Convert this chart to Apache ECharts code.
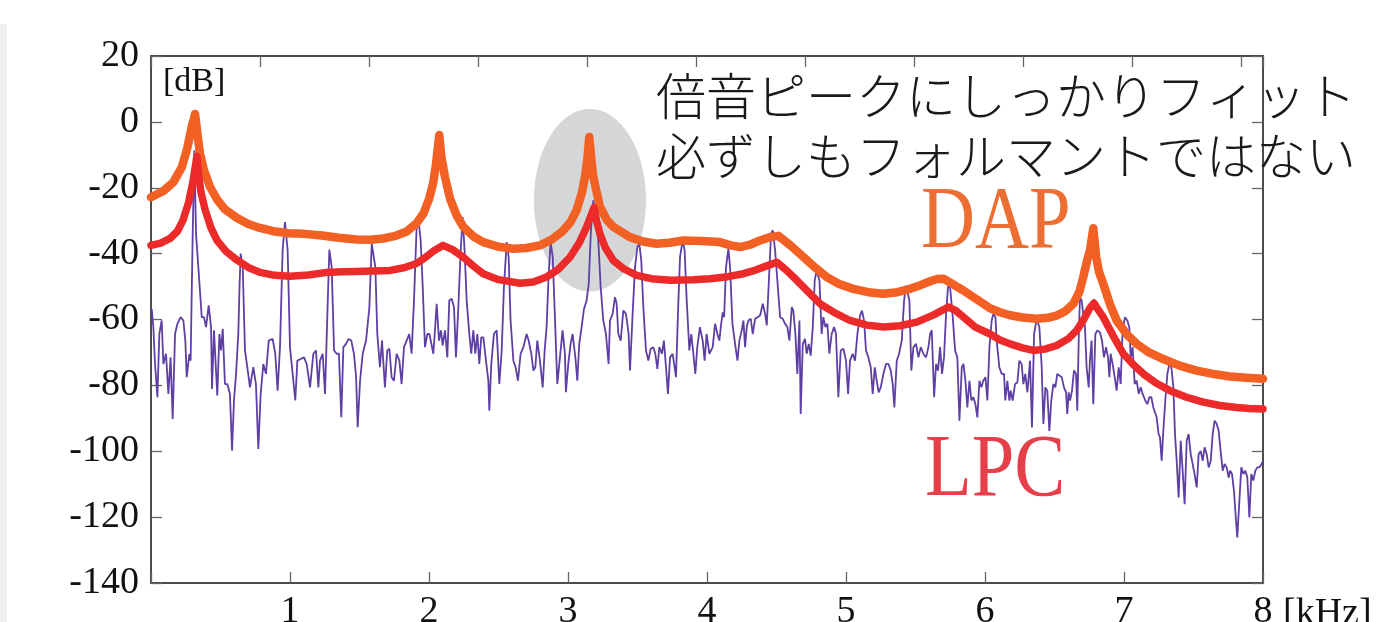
<!DOCTYPE html>
<html>
<head>
    <meta charset="utf-8">
    <title>DAP / LPC spectrum</title>
    <script src="https://cdn.jsdelivr.net/npm/echarts@6.0.0/dist/echarts.min.js"></script>
    <style>
        html, body { margin: 0; padding: 0; background: #fff; }
    </style>
</head>
<body>
    <div id="main" style="width: 1388px;height:622px;"></div>
    <script type="text/javascript">
        // axis ticks
        var freqTicks = [0, 1, 2, 3, 4, 5, 6, 7, 8];
        var dbTicks = [-140, -120, -100, -80, -60, -40, -20, 0, 20];

        // observed spectrum (purple), kHz / dB
        var specFreq = [
            0.005,0.017,0.029,0.046,0.060,0.077,0.089,0.108,0.125,0.141,0.156,0.173,0.190,0.213,0.233,0.247,0.257,0.276,0.285,0.300,
            0.312,0.324,0.357,0.365,0.381,0.396,0.415,0.432,0.439,0.453,0.465,0.477,0.492,0.504,0.516,0.532,0.549,0.568,0.583,0.597,
            0.612,0.628,0.637,0.645,0.660,0.676,0.693,0.712,0.736,0.755,0.772,0.789,0.808,0.827,0.847,0.875,0.894,0.911,0.928,0.947,
            0.964,0.983,1.000,1.019,1.038,1.053,1.077,1.101,1.120,1.144,1.168,1.187,1.204,1.216,1.235,1.252,1.269,1.283,1.300,1.317,
            1.336,1.352,1.369,1.384,1.403,1.422,1.441,1.460,1.475,1.487,1.504,1.523,1.547,1.571,1.588,1.600,1.614,1.628,1.647,1.662,
            1.683,1.700,1.715,1.731,1.748,1.767,1.787,1.803,1.820,1.839,1.858,1.875,1.892,1.911,1.926,1.940,1.955,1.971,1.988,2.003,
            2.031,2.043,2.055,2.072,2.086,2.098,2.115,2.132,2.146,2.163,2.180,2.194,2.211,2.228,2.242,2.256,2.271,2.290,2.304,2.319,
            2.333,2.348,2.362,2.376,2.391,2.410,2.427,2.434,2.448,2.467,2.487,2.506,2.523,2.539,2.559,2.573,2.587,2.607,2.623,2.640,
            2.659,2.679,2.702,2.717,2.736,2.751,2.765,2.779,2.798,2.818,2.832,2.846,2.861,2.875,2.890,2.906,2.923,2.942,2.961,2.978,
            2.985,3.002,3.019,3.033,3.053,3.067,3.081,3.098,3.115,3.134,3.149,3.165,3.182,3.218,3.235,3.254,3.273,3.292,3.302,3.321,
            3.338,3.350,3.362,3.379,3.398,3.417,3.436,3.446,3.465,3.482,3.499,3.513,3.527,3.542,3.561,3.578,3.595,3.614,3.628,3.643,
            3.657,3.676,3.690,3.705,3.719,3.734,3.753,3.767,3.777,3.791,3.806,3.825,3.839,3.854,3.873,3.887,3.902,3.916,3.930,3.949,
            3.969,3.983,3.997,4.017,4.041,4.058,4.075,4.089,4.099,4.113,4.123,4.137,4.154,4.166,4.183,4.202,4.219,4.233,4.250,4.262,
            4.274,4.286,4.298,4.315,4.329,4.346,4.363,4.382,4.401,4.418,4.430,4.444,4.461,4.473,4.490,4.506,4.526,4.545,4.562,4.578,
            4.593,4.610,4.621,4.636,4.650,4.665,4.674,4.689,4.705,4.717,4.732,4.746,4.761,4.775,4.789,4.809,4.825,4.837,4.852,4.866,
            4.880,4.897,4.914,4.928,4.945,4.962,4.981,5.000,5.015,5.029,5.048,5.065,5.082,5.101,5.115,5.130,5.144,5.161,5.178,5.192,
            5.207,5.221,5.235,5.250,5.269,5.288,5.305,5.322,5.336,5.348,5.365,5.382,5.401,5.418,5.432,5.442,5.456,5.470,5.485,5.504,
            5.521,5.538,5.557,5.576,5.593,5.605,5.617,5.634,5.648,5.662,5.677,5.691,5.705,5.720,5.734,5.749,5.768,5.785,5.801,5.816,
            5.833,5.845,5.859,5.873,5.888,5.902,5.916,5.931,5.945,5.960,5.974,5.988,6.003,6.017,6.032,6.048,6.060,6.075,6.084,6.103,
            6.120,6.137,6.146,6.161,6.175,6.185,6.199,6.216,6.233,6.247,6.264,6.276,6.290,6.305,6.324,6.338,6.353,6.372,6.391,6.408,
            6.420,6.434,6.448,6.463,6.477,6.492,6.506,6.520,6.535,6.552,6.568,6.583,6.592,6.602,6.612,6.626,6.640,6.655,6.664,6.674,
            6.683,6.695,6.707,6.719,6.731,6.746,6.755,6.767,6.779,6.794,6.808,6.827,6.842,6.856,6.871,6.885,6.895,6.904,6.918,6.933,
            6.947,6.962,6.976,6.990,7.007,7.024,7.038,7.048,7.062,7.077,7.091,7.106,7.120,7.134,7.153,7.168,7.182,7.197,7.211,7.225,
            7.235,7.249,7.259,7.271,7.283,7.297,7.312,7.326,7.341,7.355,7.367,7.379,7.393,7.408,7.422,7.436,7.451,7.465,7.480,7.494,
            7.508,7.523,7.537,7.552,7.566,7.580,7.595,7.609,7.624,7.638,7.652,7.667,7.681,7.695,7.710,7.724,7.739,7.753,7.763,7.777,
            7.791,7.806,7.815,7.830,7.844,7.859,7.873,7.887,7.902,7.916,7.930,7.945,7.959,7.974,7.990,8.000
        ];
        var specDb = [
            -56.8,-62.3,-73.5,-83.6,-64.4,-60.3,-73.5,-70.4,-82.6,-71.5,-90.2,-64.4,-61.3,-59.3,-60.3,-66.4,-77.5,-70.5,-72.5,-34.0,
            -8.6,-34.0,-54.2,-59.3,-59.3,-62.3,-55.7,-62.3,-81.1,-63.3,-63.3,-83.1,-64.4,-69.4,-62.8,-79.6,-79.6,-82.6,-99.8,-84.6,
            -76.5,-64.4,-50.0,-40.0,-44.1,-69.4,-74.5,-80.6,-74.5,-79.6,-99.3,-82.6,-73.5,-76.5,-66.4,-65.9,-70.4,-81.6,-68.4,-39.0,
            -30.4,-39.0,-68.4,-76.5,-84.6,-72.5,-72.0,-71.5,-73.5,-80.6,-70.4,-69.4,-80.6,-72.5,-70.4,-82.6,-58.3,-38.8,-44.1,-69.4,
            -70.4,-70.4,-89.7,-68.4,-67.4,-65.9,-66.4,-70.4,-77.0,-92.7,-78.6,-70.4,-66.4,-56.3,-37.0,-36.5,-44.1,-64.4,-74.5,-66.4,
            -80.6,-69.4,-68.9,-77.5,-78.6,-70.4,-72.5,-79.6,-68.4,-66.4,-64.4,-70.4,-54.2,-31.9,-30.4,-36.0,-50.2,-68.4,-64.4,-64.4,
            -70.4,-63.3,-55.2,-66.4,-63.3,-67.9,-63.3,-71.5,-54.2,-53.7,-56.3,-71.5,-56.3,-39.0,-28.9,-39.0,-54.2,-64.4,-70.4,-63.3,
            -70.4,-64.4,-73.5,-65.4,-65.4,-72.5,-78.6,-87.7,-73.5,-64.4,-63.3,-79.6,-69.4,-50.2,-36.5,-41.0,-60.3,-72.5,-74.5,-78.6,
            -70.4,-68.4,-64.4,-66.4,-70.4,-75.5,-74.5,-66.4,-72.5,-80.6,-69.4,-62.3,-46.1,-36.5,-41.0,-59.3,-79.6,-71.5,-63.3,-70.4,
            -82.1,-73.5,-67.4,-64.4,-71.5,-78.6,-67.4,-62.3,-56.8,-54.2,-49.2,-32.9,-23.8,-36.0,-50.2,-60.3,-64.4,-73.5,-60.3,-58.3,
            -53.2,-55.2,-64.4,-66.4,-57.3,-58.3,-64.4,-75.5,-58.3,-44.1,-38.0,-37.0,-42.0,-56.3,-69.4,-72.5,-68.9,-68.4,-70.4,-75.0,
            -68.4,-70.4,-66.4,-74.5,-82.6,-71.5,-70.4,-70.4,-77.5,-58.3,-41.0,-36.0,-39.0,-54.2,-69.4,-64.4,-70.4,-76.5,-68.4,-62.3,
            -66.4,-72.5,-64.4,-70.4,-68.4,-61.3,-64.4,-66.4,-62.3,-57.8,-59.3,-44.1,-38.5,-44.1,-61.3,-67.4,-72.5,-66.4,-63.3,-60.3,
            -68.4,-62.3,-60.3,-59.8,-64.4,-59.8,-59.3,-58.8,-55.2,-58.3,-61.8,-49.2,-33.9,-32.9,-39.0,-48.1,-59.3,-59.8,-61.3,-62.3,
            -66.4,-56.2,-57.3,-64.4,-76.5,-60.3,-88.7,-67.4,-65.9,-70.4,-67.4,-71.0,-62.3,-48.1,-45.1,-48.1,-64.4,-59.3,-62.3,-61.3,
            -70.4,-64.4,-62.3,-64.4,-83.6,-69.4,-68.9,-72.5,-82.6,-72.5,-70.4,-72.5,-64.4,-58.8,-57.3,-60.3,-69.4,-71.5,-74.5,-82.6,
            -74.5,-78.6,-82.1,-80.6,-76.5,-73.5,-73.5,-75.5,-79.6,-86.7,-72.5,-70.4,-66.4,-54.2,-49.7,-49.2,-54.2,-75.5,-68.4,-67.4,
            -71.5,-68.4,-70.4,-71.5,-68.4,-64.4,-63.3,-83.6,-73.5,-75.5,-68.4,-76.5,-71.5,-58.3,-50.0,-50.2,-59.3,-69.4,-71.5,-90.7,
            -74.5,-73.5,-78.6,-86.7,-78.6,-84.6,-83.6,-85.7,-89.7,-78.6,-80.6,-78.6,-77.5,-84.6,-68.4,-60.3,-58.3,-59.3,-66.4,-74.5,
            -76.5,-76.5,-84.6,-78.6,-84.6,-81.6,-84.6,-79.6,-79.1,-72.5,-73.5,-79.6,-76.5,-82.1,-72.5,-92.8,-64.4,-59.8,-62.3,-74.5,
            -91.7,-80.6,-81.6,-93.8,-84.6,-79.6,-80.6,-76.5,-77.0,-77.5,-80.6,-82.1,-88.7,-82.1,-84.6,-81.6,-75.5,-76.5,-87.7,-66.4,
            -53.2,-54.2,-58.3,-62.3,-74.5,-80.6,-72.5,-66.4,-85.7,-64.4,-63.3,-63.9,-66.4,-71.5,-68.4,-71.5,-77.5,-70.4,-73.5,-77.5,
            -81.6,-74.5,-79.6,-63.3,-59.3,-60.3,-62.3,-71.5,-68.4,-79.6,-78.6,-82.6,-80.6,-82.6,-84.6,-85.7,-83.6,-83.6,-86.7,-86.7,
            -89.7,-94.8,-95.8,-102.9,-93.8,-84.6,-76.5,-73.5,-74.5,-80.6,-94.8,-102.9,-114.0,-96.8,-105.9,-116.1,-96.8,-94.8,-100.9,-103.9,
            -107.0,-111.0,-100.9,-99.9,-102.9,-98.8,-100.9,-104.9,-102.9,-94.8,-90.7,-91.7,-93.8,-99.9,-105.9,-103.9,-104.9,-108.0,-105.9,-106.9,
            -112.0,-121.1,-126.2,-115.1,-104.9,-106.9,-105.9,-107.9,-120.1,-106.9,-108.9,-105.9,-104.9,-104.9,-103.9,-102.9
        ];

        // DAP envelope (orange)
        var dapFreq = [
            0,0.089,0.161,0.221,0.261,0.293,0.317,0.335,0.352,0.38,0.424,0.475,0.53,0.619,0.70,0.784,0.88,0.99,1.1,1.23,
            1.35,1.48,1.58,1.67,1.76,1.84,1.91,1.96,2.0,2.03,2.05,2.074,2.09,2.115,2.151,2.2,2.247,2.32,2.39,2.5,
            2.607,2.7,2.798,2.88,2.966,3.02,3.062,3.1,3.122,3.14,3.153,3.166,3.182,3.23,3.28,3.326,3.446,3.54,3.638,3.73,
            3.83,3.96,4.093,4.17,4.238,4.31,4.382,4.45,4.514,4.6,4.693,4.78,4.861,4.95,5.053,5.16,5.269,5.37,5.461,5.54,
            5.605,5.655,5.701,5.75,5.80,5.845,5.92,5.988,6.036,6.108,6.18,6.27,6.372,6.45,6.516,6.58,6.636,6.68,6.707,6.735,
            6.755,6.779,6.80,6.82,6.851,6.9,6.947,7.02,7.091,7.18,7.283,7.4,7.523,7.64,7.763,7.88,8.0
        ];
        var dapDb = [
            -22.9,-21.0,-18.3,-13.8,-8.0,-1.5,2.4,-4.0,-9.6,-14.5,-19.7,-23.5,-26.5,-29.2,-31.0,-32.2,-33.2,-33.8,-34.0,-34.5,
            -35.2,-35.7,-35.8,-35.4,-34.6,-33.3,-30.8,-27.8,-23.5,-18.6,-13.0,-4.0,-11.0,-16.7,-23.3,-28.5,-31.9,-34.8,-36.5,-37.9,
            -38.5,-38.3,-37.5,-35.8,-33.0,-30.3,-26.8,-21.5,-16.7,-11.0,-4.6,-10.5,-16.7,-25.8,-29.8,-31.9,-35.0,-36.3,-37.0,-36.7,
            -36.0,-36.2,-36.5,-37.5,-38.0,-37.3,-36.0,-35.0,-34.6,-37.5,-41.0,-44.3,-47.1,-49.2,-50.7,-51.7,-52.2,-51.7,-50.7,-49.5,
            -48.4,-47.7,-47.6,-48.8,-50.1,-51.2,-53.3,-55.2,-56.6,-57.8,-58.7,-59.4,-59.8,-59.5,-58.8,-57.4,-55.2,-51.5,-47.1,-42.0,
            -39.0,-32.3,-41.0,-45.5,-49.2,-55.5,-60.3,-64.5,-67.4,-70.0,-72.0,-74.0,-75.5,-76.5,-77.3,-77.7,-78.0
        ];

        // LPC envelope (red)
        var lpcFreq = [
            0,0.07,0.137,0.19,0.23,0.27,0.30,0.33,0.345,0.36,0.39,0.43,0.475,0.54,0.62,0.70,0.784,0.89,1.0,1.13,
            1.266,1.37,1.48,1.6,1.72,1.82,1.91,1.97,2.03,2.1,2.17,2.247,2.32,2.39,2.5,2.654,2.75,2.846,2.93,3.014,
            3.08,3.134,3.165,3.187,3.205,3.23,3.27,3.326,3.4,3.494,3.6,3.734,3.9,4.022,4.15,4.262,4.35,4.406,4.502,4.57,
            4.646,4.73,4.813,4.92,5.029,5.15,5.269,5.39,5.509,5.63,5.737,5.79,5.845,5.93,6.036,6.108,6.18,6.27,6.348,6.43,
            6.516,6.6,6.66,6.71,6.755,6.784,6.81,6.851,6.92,6.995,7.07,7.139,7.23,7.331,7.45,7.571,7.69,7.81,7.9,8.0
        ];
        var lpcDb = [
            -37.5,-36.8,-35.4,-33.2,-29.9,-24.5,-18.6,-10.5,-17.0,-21.5,-26.8,-32.0,-36.0,-39.3,-42.0,-44.2,-45.7,-46.6,-46.9,-46.5,
            -45.7,-45.5,-45.4,-45.3,-45.1,-44.3,-43.0,-41.3,-39.3,-37.5,-38.8,-41.1,-43.8,-46.1,-47.9,-49.0,-48.6,-47.1,-44.8,-41.1,
            -36.8,-31.9,-28.5,-26.0,-30.0,-34.0,-38.3,-42.1,-44.6,-46.6,-47.6,-48.1,-47.9,-47.6,-47.0,-46.1,-45.0,-44.1,-42.6,-45.0,
            -48.1,-51.7,-55.2,-58.0,-60.3,-61.7,-62.3,-61.9,-60.8,-58.6,-56.2,-57.3,-59.3,-62.3,-64.4,-66.2,-67.4,-68.6,-69.4,-69.0,
            -67.9,-65.8,-63.3,-60.0,-56.5,-55.0,-56.8,-59.3,-64.8,-70.4,-73.8,-76.5,-79.3,-81.6,-83.6,-85.1,-86.1,-86.7,-87.0,-87.2
        ];

        function pairs(xs, ys) {
            var out = [];
            for (var i = 0; i < xs.length; i++) out.push([xs[i], ys[i]]);
            return out;
        }

        var serif = '"Liberation Serif", "DejaVu Serif", serif';
        var myChart = echarts.init(document.getElementById('main'));

        option = {
            animation: false,
            backgroundColor: '#fff',
            // outerBoundsMode none: let the bottom labels run off the canvas like the original
            grid: { left: 151, right: 125, top: 56, bottom: 39, containLabel: false, outerBoundsMode: 'none' },
            xAxis: [
                {
                    type: 'value', position: 'bottom',
                    min: freqTicks[0], max: freqTicks[freqTicks.length - 1], interval: 1,
                    axisLine: { show: true, onZero: false, lineStyle: { color: '#111', width: 1.5 } },
                    axisTick: { show: true, inside: true, length: 11, lineStyle: { color: '#666', width: 1.3 } },
                    axisLabel: {
                        margin: 10, color: '#111', fontFamily: serif, fontSize: 38,
                        formatter: function (v) { return v === 0 ? '' : String(v); }
                    },
                    splitLine: { show: false }
                },
                {
                    // top frame has its own tick spacing
                    type: 'value', position: 'top',
                    min: 0, max: 10.2, interval: 1,
                    axisLine: { show: true, onZero: false, lineStyle: { color: '#111', width: 1.5 } },
                    axisTick: { show: true, inside: true, length: 11, lineStyle: { color: '#666', width: 1.3 } },
                    axisLabel: { show: false },
                    splitLine: { show: false }
                }
            ],
            yAxis: [
                {
                    type: 'value', position: 'left',
                    min: dbTicks[0], max: dbTicks[dbTicks.length - 1], interval: 20,
                    axisLine: { show: true, onZero: false, lineStyle: { color: '#111', width: 1.5 } },
                    axisTick: { show: true, inside: true, length: 11, lineStyle: { color: '#666', width: 1.3 } },
                    axisLabel: { margin: 12, color: '#111', fontFamily: serif, fontSize: 38 },
                    splitLine: { show: false }
                },
                {
                    type: 'value', position: 'right',
                    min: dbTicks[0], max: dbTicks[dbTicks.length - 1], interval: 20,
                    axisLine: { show: true, onZero: false, lineStyle: { color: '#111', width: 1.5 } },
                    axisTick: { show: true, inside: true, length: 11, lineStyle: { color: '#666', width: 1.3 } },
                    axisLabel: { show: false },
                    splitLine: { show: false }
                }
            ],
            series: [
                {
                    name: 'spectrum', type: 'line', xAxisIndex: 0, yAxisIndex: 0,
                    data: pairs(specFreq, specDb), showSymbol: false, z: 2,
                    lineStyle: { color: '#5E3FA3', width: 1.8 }
                },
                {
                    name: 'DAP', type: 'line', xAxisIndex: 0, yAxisIndex: 0,
                    data: pairs(dapFreq, dapDb), showSymbol: false, z: 3,
                    lineStyle: { color: '#F26024', width: 8.5, join: 'round', cap: 'round' }
                },
                {
                    name: 'LPC', type: 'line', xAxisIndex: 0, yAxisIndex: 0,
                    data: pairs(lpcFreq, lpcDb), showSymbol: false, z: 4,
                    lineStyle: { color: '#ED2A2A', width: 7.5, join: 'round', cap: 'round' }
                }
            ]
        };
        myChart.setOption(option);

        // annotations: shaded ellipse around the 3.15 kHz peak, labels
        var c = myChart.convertToPixel({ xAxisIndex: 0, yAxisIndex: 0 }, [3.158, -23.8]);
        var e = myChart.convertToPixel({ xAxisIndex: 0, yAxisIndex: 0 }, [3.158 + 0.403, -23.8 - 27.7]);
        var jp = '"Noto Sans CJK JP", "Noto Sans CJK SC", sans-serif';
        myChart.setOption({
            graphic: [
                { type: 'rect', z: -10, shape: { x: 0, y: 24, width: 7, height: 598 }, style: { fill: '#efefef' } },
                { type: 'ellipse', z: -5, shape: { cx: c[0], cy: c[1], rx: e[0] - c[0], ry: e[1] - c[1] }, style: { fill: '#d5d6d8' } },
                { type: 'text', z: 50, x: 163, y: 82, style: { text: '[dB]', font: '34px ' + serif, fill: '#111', textAlign: 'left', textVerticalAlign: 'middle' } },
                { type: 'text', z: 50, x: 1283, y: 614, style: { text: '[kHz]', font: '38px ' + serif, fill: '#111', textAlign: 'left', textVerticalAlign: 'middle' } },
                { type: 'text', z: 50, x: 656, y: 96, style: { text: '倍音ピークにしっかりフィット', font: '300 50px ' + jp, fill: '#1a1a1a', textAlign: 'left', textVerticalAlign: 'middle' } },
                { type: 'text', z: 50, x: 656, y: 156, style: { text: '必ずしもフォルマントではない', font: '300 50px ' + jp, fill: '#1a1a1a', textAlign: 'left', textVerticalAlign: 'middle' } },
                { type: 'text', z: 50, x: 921, y: 224, scaleX: 0.84, style: { text: 'DAP', font: '89px ' + serif, fill: '#EC6E33', textAlign: 'left', textVerticalAlign: 'middle' } },
                { type: 'text', z: 50, x: 925, y: 472, scaleX: 0.86, style: { text: 'LPC', font: '89px ' + serif, fill: '#E5404A', textAlign: 'left', textVerticalAlign: 'middle' } }
            ]
        });
    </script>
</body>
</html>
